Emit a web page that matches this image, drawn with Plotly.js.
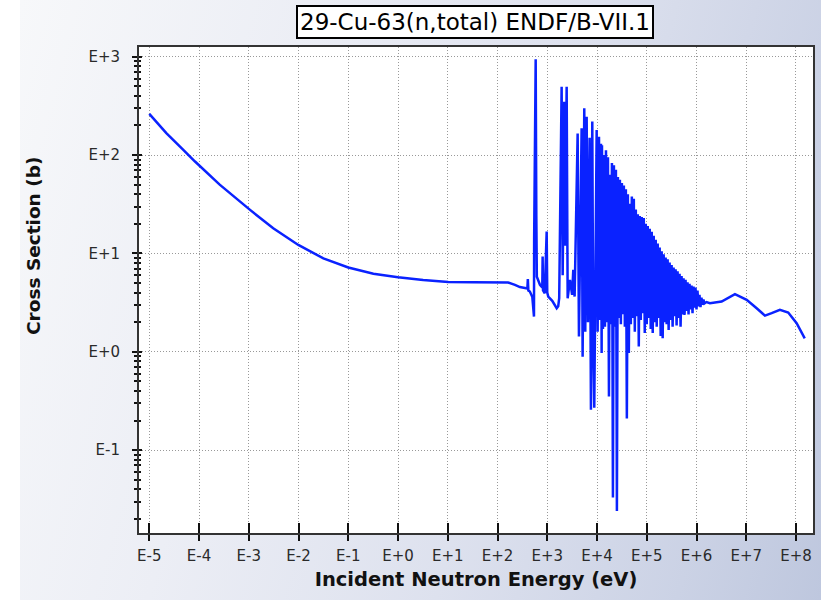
<!DOCTYPE html>
<html>
<head>
<meta charset="utf-8">
<script src="https://cdn.plot.ly/plotly-3.0.1.min.js"></script>
<style>
  html, body { margin:0; padding:0; background:#ffffff; }
  #bg { position:absolute; left:20px; top:0; width:801px; height:600px;
        background: linear-gradient(105deg, #f7f8fa 0%, #eceef5 30%, #dde1ee 60%, #cbd2e5 85%, #bec7de 100%); }
  #chart { position:absolute; left:0; top:0; width:821px; height:600px; }
</style>
</head>
<body>
<div id="bg"></div>
<div id="chart"></div>
<script>
// ---- Data (energy in eV, cross section in barns) ----
// Smooth low-energy part (1/v region and flat part)
const energyLow = [1e-5, 2.2e-5, 4.5e-5, 8.3e-5, 2.6e-4, 1.06e-3, 3.1e-3, 9.9e-3, 3.16e-2, 0.1, 0.32, 1.0, 3.2, 10.2, 32, 164, 224, 282, 398];
const xsLow     = [262,  167,    117,    86,     50,     27.7,    18,     12.2,   8.9,     7.2, 6.2,  5.73, 5.38, 5.13, 5.1, 5.05, 4.79, 4.55, 4.4];

// Isolated resonances (~400 eV to ~12 keV)
const energyRes1 = [407, 417, 447, 501, 541, 545, 585, 603, 617, 713, 794, 807, 822, 891, 973, 1000, 1047, 1259, 1549, 1660, 1738,
                    1945, 2042, 2198, 2291, 2455, 2570, 2858, 3162, 3334, 3548, 4083, 4335, 4909, 5140, 5546, 5808, 6194, 6577,
                    7112, 7551, 8035, 8414, 8810, 9840, 1.03e4, 1.096e4, 1.161e4, 1.202e4, 1.239e4];
const xsRes1     = [5.5, 4.2, 4.1, 3.6, 2.28, 14.3, 942, 23.7, 5.8, 4.8, 4.5, 9.3, 4.2, 3.93, 16.7, 4.0, 3.64, 3.3, 2.77, 2.9, 3.5,
                    495, 6, 349, 12, 495, 3.5, 5.37, 3.8, 6.8, 3.64, 166, 1.43, 187, 0.89, 299, 1.6, 245, 2.0,
                    150, 0.257, 219, 1.2, 0.27, 180, 1.6, 154, 2.1, 130, 0.97];

// Dense resonance region (~12 keV to ~1.4 MeV), peaks and valleys
const energyRes2 = [
  1.259e4, 1.318e4, 1.380e4, 1.445e4, 1.514e4, 1.585e4, 1.660e4, 1.738e4, 1.820e4, 1.905e4,
  1.995e4, 2.089e4, 2.188e4, 2.291e4, 2.399e4, 2.512e4, 2.630e4, 2.754e4, 2.884e4, 3.020e4,
  3.162e4, 3.311e4, 3.467e4, 3.631e4, 3.802e4, 3.981e4, 4.169e4, 4.365e4, 4.571e4, 4.786e4,
  5.012e4, 5.248e4, 5.495e4, 5.754e4, 6.026e4, 6.310e4, 6.607e4, 6.918e4, 7.244e4, 7.586e4,
  7.943e4, 8.318e4, 8.710e4, 9.120e4, 9.550e4, 1.000e5, 1.047e5, 1.096e5, 1.148e5, 1.202e5,
  1.259e5, 1.318e5, 1.380e5, 1.445e5, 1.514e5, 1.585e5, 1.660e5, 1.738e5, 1.820e5, 1.905e5,
  1.995e5, 2.089e5, 2.188e5, 2.291e5, 2.399e5, 2.512e5, 2.630e5, 2.754e5, 2.884e5, 3.020e5,
  3.162e5, 3.311e5, 3.467e5, 3.631e5, 3.802e5, 3.981e5, 4.169e5, 4.365e5, 4.571e5, 4.786e5,
  5.012e5, 5.248e5, 5.495e5, 5.754e5, 6.026e5, 6.310e5, 6.607e5, 6.918e5, 7.244e5, 7.586e5,
  7.943e5, 8.318e5, 8.710e5, 9.120e5, 9.550e5, 1.000e6, 1.047e6, 1.096e6, 1.148e6, 1.202e6,
  1.259e6, 1.318e6, 1.380e6, 1.445e6];
const xsRes2 = [
  126, 1.7, 100, 1.8, 112, 2.0, 95, 0.35, 63, 1.9,
  83, 0.033, 79, 1.8, 71, 0.024, 60, 2.2, 56, 1.9,
  52, 2.4, 49, 1.8, 45, 0.21, 40, 0.97, 32, 1.9,
  38, 2.2, 36, 1.6, 28, 2.3, 25, 1.13, 24, 2.1,
  23.4, 2.47, 22.9, 1.55, 20, 1.9, 19, 2.2, 17.8, 1.7,
  16.6, 1.55, 15.1, 2.0, 13.8, 1.8, 12.6, 2.2, 11.5, 1.45,
  10.5, 1.37, 9.8, 2.0, 9.1, 1.9, 8.7, 1.67, 8.1, 2.1,
  7.6, 1.8, 7.2, 2.3, 6.9, 1.85, 6.6, 2.2, 6.2, 1.8,
  5.9, 2.4, 5.6, 2.37, 5.4, 2.6, 5.1, 2.4, 4.9, 2.7,
  4.7, 2.47, 4.6, 2.8, 4.5, 2.7, 4.2, 2.9, 3.8, 2.85,
  3.55, 3.0, 3.4, 3.1];

// Smooth high-energy part
const energyHigh = [1.585e6, 1.862e6, 3.2e6, 5.93e6, 1.02e7, 1.62e7, 2.38e7, 3.24e7, 4.75e7, 6.98e7, 1.03e8, 1.5e8];
const xsHigh     = [3.2,     3.12,    3.24,  3.85,   3.37,   2.77,   2.33,   2.47,   2.67,   2.51,   1.95,   1.37];

// Tick labels
const xTickVals = [1e-5, 1e-4, 1e-3, 1e-2, 1e-1, 1e0, 1e1, 1e2, 1e3, 1e4, 1e5, 1e6, 1e7, 1e8];
const xTickText = ['E-5','E-4','E-3','E-2','E-1','E+0','E+1','E+2','E+3','E+4','E+5','E+6','E+7','E+8'];
const yTickVals = [1e-1, 1e0, 1e1, 1e2, 1e3];
const yTickText = ['E-1','E+0','E+1','E+2','E+3'];

const energy = energyLow.concat(energyRes1, energyRes2, energyHigh);
const xs = xsLow.concat(xsRes1, xsRes2, xsHigh);

const xRange = [-5.207, 8.342];
const yRange = [-1.843, 3.099];
const tickFont = {family: 'DejaVu Sans', size: 15, color: '#2a2a2a'};

const traces = [
  {x: energy, y: xs, type: 'scatter', mode: 'lines',
   line: {color: '#0a22ff', width: 2.5, simplify: false},
   hoverinfo: 'skip', showlegend: false},
  {x: [], y: [], type: 'scatter', mode: 'lines', xaxis: 'x2', yaxis: 'y2', showlegend: false}
];

const layout = {
  width: 821, height: 600, autosize: false,
  margin: {l: 139, r: 8, t: 47, b: 67, pad: 0},
  paper_bgcolor: 'rgba(0,0,0,0)',
  plot_bgcolor: '#ffffff',
  showlegend: false,
  xaxis: {
    type: 'log', range: xRange, tickmode: 'array', tickvals: xTickVals, ticktext: xTickText,
    ticks: 'outside', ticklen: 6, tickwidth: 2, tickcolor: '#111',
    showline: true, linecolor: '#333', linewidth: 2, mirror: true,
    showgrid: true, gridcolor: '#999999', griddash: '1px,2px', gridwidth: 1, zeroline: false,
    tickfont: tickFont, ticklabelstandoff: 2,
    title: {text: 'Incident Neutron Energy (eV)', font: {family: 'DejaVu Sans', size: 19.5, color: '#111', weight: 'bold'}, standoff: 8}
  },
  yaxis: {
    type: 'log', range: yRange, tickmode: 'array', tickvals: yTickVals, ticktext: yTickText,
    ticks: 'outside', ticklen: 5, tickwidth: 2, tickcolor: '#111',
    minor: {ticks: 'outside', ticklen: 3, tickwidth: 2, tickcolor: '#111', dtick: 'D1', showgrid: false},
    showline: true, linecolor: '#333', linewidth: 2, mirror: true,
    showgrid: true, gridcolor: '#999999', griddash: '1px,2px', gridwidth: 1, zeroline: false,
    tickfont: tickFont, ticklabelstandoff: 9
  },
  xaxis2: {
    type: 'log', range: xRange, overlaying: 'x', anchor: 'y2', side: 'bottom',
    tickmode: 'array', tickvals: xTickVals, ticks: 'inside', ticklen: 10, tickwidth: 2, tickcolor: '#111',
    showticklabels: false, showgrid: false, showline: false, zeroline: false
  },
  yaxis2: {
    type: 'log', range: yRange, overlaying: 'y', anchor: 'x2', side: 'left',
    tickmode: 'array', tickvals: yTickVals, ticks: 'inside', ticklen: 3, tickwidth: 2, tickcolor: '#111',
    minor: {ticks: 'inside', ticklen: 2, tickwidth: 2, tickcolor: '#111', dtick: 'D1', showgrid: false},
    showticklabels: false, showgrid: false, showline: false, zeroline: false
  },
  annotations: [{
    text: '29-Cu-63(n,total) ENDF/B-VII.1',
    xref: 'paper', yref: 'paper', x: 0.4978, y: 1.051, xanchor: 'center', yanchor: 'middle',
    showarrow: false, font: {family: 'DejaVu Sans', size: 23, color: '#000'},
    bgcolor: '#ffffff', bordercolor: '#000000', borderwidth: 2, borderpad: 2
  }, {
    text: 'Cross Section (b)', textangle: -90,
    xref: 'paper', yref: 'paper', x: -0.1573, y: 0.5905, xanchor: 'center', yanchor: 'middle',
    showarrow: false, font: {family: 'DejaVu Sans', size: 18.5, color: '#111', weight: 'bold'}
  }]
};

Plotly.newPlot('chart', traces, layout, {staticPlot: true, displayModeBar: false});
</script>
</body>
</html>
